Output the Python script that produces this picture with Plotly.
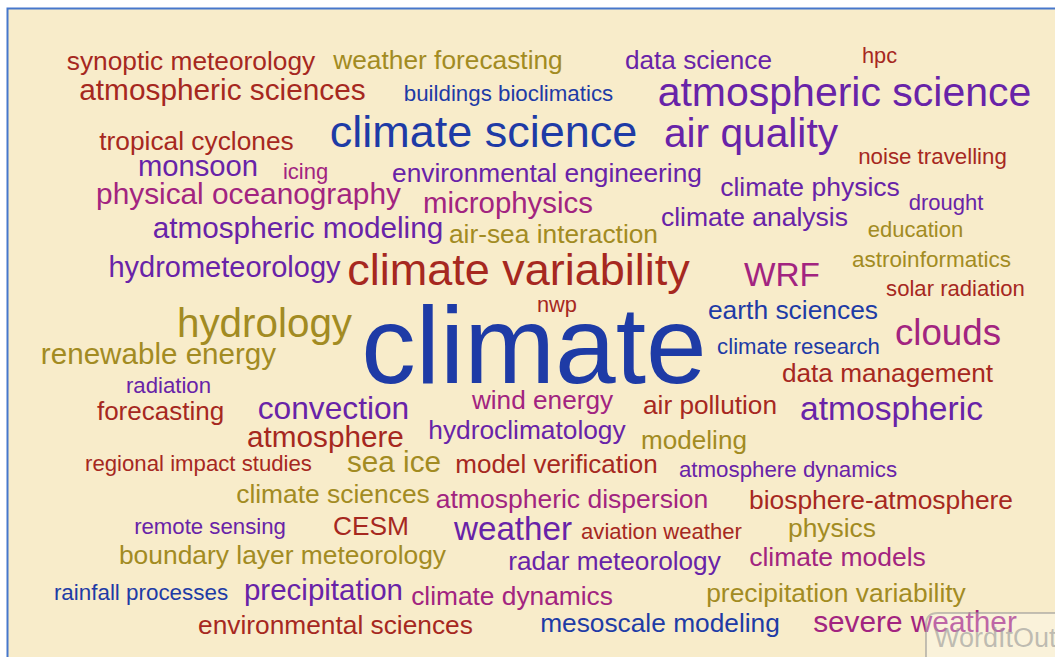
import plotly.graph_objects as go

# Word cloud data: words and their weights (font size in px)
words = [
    "synoptic meteorology", "atmospheric sciences", "weather forecasting", "buildings bioclimatics",
    "data science", "hpc", "atmospheric science", "tropical cyclones", "monsoon", "icing",
    "physical oceanography", "atmospheric modeling", "hydrometeorology", "climate science",
    "air quality", "environmental engineering", "microphysics", "air-sea interaction",
    "climate variability", "noise travelling", "climate physics", "drought", "climate analysis",
    "education", "astroinformatics", "WRF", "solar radiation", "hydrology", "renewable energy",
    "radiation", "forecasting", "convection", "atmosphere", "regional impact studies", "sea ice",
    "climate", "nwp", "earth sciences", "climate research", "wind energy", "air pollution",
    "hydroclimatology", "modeling", "model verification", "atmosphere dynamics", "clouds",
    "data management", "atmospheric", "biosphere-atmosphere", "climate sciences", "remote sensing",
    "CESM", "boundary layer meteorology", "rainfall processes", "precipitation",
    "environmental sciences", "atmospheric dispersion", "weather", "aviation weather",
    "radar meteorology", "climate dynamics", "mesoscale modeling", "physics", "climate models",
    "precipitation variability", "severe weather",
]
weights = [
    26.3, 29.8, 26.3, 22.3,
    26.2, 21.8, 41, 26.3, 29.2, 22,
    29.8, 29.7, 29, 45,
    40.7, 26.3, 29.4, 26.3,
    45, 22.3, 26.5, 22, 26.5,
    22, 22.5, 33.4, 22.1, 40.4, 29.6,
    22.2, 26, 31.7, 29.7, 22.2, 29.7,
    109, 21.8, 26.4, 22.2, 26.2, 26.2,
    26.3, 26.1, 26, 22.3, 36.7,
    26.2, 33.6, 26.4, 26.4, 22.2,
    26.3, 26.4, 22.4, 29.5,
    26.3, 26.5, 33.2, 22.1,
    26.2, 26.3, 26.3, 26.4, 26.5,
    26.4, 29.8,
]
color_group = [
    "red", "red", "olive", "blue",
    "purple", "red", "purple", "red", "purple", "magenta",
    "magenta", "purple", "purple", "blue",
    "purple", "purple", "magenta", "olive",
    "red", "red", "purple", "purple", "purple",
    "olive", "olive", "magenta", "red", "olive", "olive",
    "purple", "red", "purple", "red", "red", "olive",
    "blue", "red", "blue", "blue", "magenta", "red",
    "purple", "olive", "red", "purple", "magenta",
    "red", "purple", "red", "olive", "purple",
    "red", "olive", "blue", "purple",
    "red", "magenta", "purple", "red",
    "purple", "magenta", "blue", "olive", "magenta",
    "olive", "magenta",
]
# Layout of the cloud (word horizontal extents and baselines, in page pixels)
x_left = [
    67, 79, 333, 404,
    625, 862, 658, 99, 138, 283,
    96, 153, 106, 330,
    664, 392, 423, 449,
    347, 858, 720, 909, 661,
    868, 853, 744, 886, 177, 41,
    126, 97, 253, 247, 85, 347,
    362, 537, 708, 717, 472, 643,
    428, 641, 454, 679, 895,
    782, 800, 749, 236, 134,
    333, 119, 54, 244,
    198, 436, 454, 581,
    508, 411, 540, 788, 749,
    706, 813,
]
x_right = [
    315, 366, 563, 613,
    772, 897, 1031, 294, 258, 328,
    401, 443, 343, 637,
    838, 702, 593, 658,
    690, 1007, 900, 983, 848,
    963, 1010, 820, 1025, 352, 276,
    211, 224, 414, 404, 312, 441,
    706, 577, 878, 880, 613, 777,
    626, 747, 659, 897, 1001,
    993, 983, 1013, 430, 286,
    409, 446, 228, 403,
    473, 708, 572, 742,
    721, 613, 780, 876, 926,
    966, 1017,
]
baseline = [
    70, 100, 69, 101,
    69, 63, 106, 150, 176, 179,
    204, 238, 277, 147,
    147, 182, 213, 243,
    285, 164, 196, 210, 226,
    237, 267, 286, 296, 337, 364,
    393, 420, 419, 447, 471, 472,
    383, 312, 319, 354, 409, 414,
    439, 449, 473, 477, 345,
    382, 420, 509, 503, 534,
    535, 564, 600, 600,
    634, 508, 540, 539,
    570, 605, 632, 537, 566,
    602, 632,
]

palette = {
    "red": "#a6281f",
    "olive": "#a28b22",
    "blue": "#1e3ba6",
    "purple": "#6823a8",
    "magenta": "#a22480",
}

xs = [(a + b) / 2 for a, b in zip(x_left, x_right)]
# Plotly places baseline at center + 0.25*fontsize for "middle center"
ys = [bl - 0.25 * s for bl, s in zip(baseline, weights)]
colors = [palette[c] for c in color_group]

fig = go.Figure()
fig.add_trace(go.Scatter(
    x=xs, y=ys, text=words, mode="text",
    textposition="middle center",
    textfont=dict(size=weights, color=colors,
                  family="Liberation Sans, Arial, Helvetica, sans-serif"),
    hoverinfo="text", showlegend=False,
))

W, H = 1055, 657
fig.update_layout(
    width=W, height=H,
    margin=dict(l=0, r=0, t=0, b=0),
    paper_bgcolor="white", plot_bgcolor="white",
    xaxis=dict(range=[0, W], visible=False, fixedrange=True),
    yaxis=dict(range=[H, 0], visible=False, fixedrange=True),
    shapes=[
        dict(type="rect", xref="x", yref="y", x0=7.5, y0=8.5, x1=W + 20, y1=H + 20,
             fillcolor="#f8ecca", line=dict(color="#4677cc", width=2), layer="below"),
        dict(type="path", xref="x", yref="y",
             path="M 938 613 L 1070 613 L 1070 670 L 938 670 Q 926 670 926 658 L 926 625 Q 926 613 938 613 Z",
             fillcolor="rgba(255,255,255,0.3)", line=dict(color="rgba(150,150,150,0.55)", width=2),
             layer="above"),
    ],
    annotations=[
        dict(x=932, y=638, xref="x", yref="y", text="WordItOut", showarrow=False,
             xanchor="left", yanchor="middle",
             font=dict(size=27, color="rgba(150,150,150,0.6)",
                       family="Liberation Sans, Arial, sans-serif")),
    ],
)

fig.write_html(
    "out.html",
    config={"displayModeBar": False},
    post_script="document.body.style.margin='0';document.body.style.overflow='hidden';",
)
